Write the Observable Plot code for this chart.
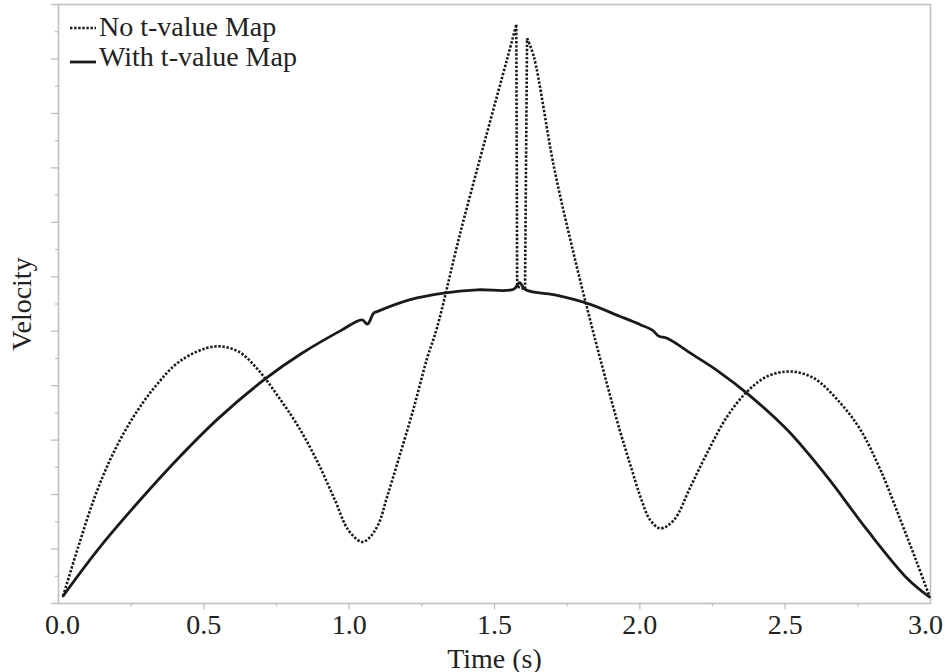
<!DOCTYPE html>
<html>
<head>
<meta charset="utf-8">
<script src="https://cdn.jsdelivr.net/npm/d3@7"></script>
<script src="https://cdn.jsdelivr.net/npm/@observablehq/plot@0.6"></script>
<style>
  body { margin: 0; background: #fff; }
  svg, svg text { font-family: "Liberation Serif", "Times New Roman", serif; }
</style>
</head>
<body>
<div id="chart"></div>
<script>
// Velocity profile without the t-value map (dotted)
const timeNoMap = [0.016, 0.068, 0.125, 0.183, 0.251, 0.332, 0.423, 0.538, 0.618, 0.687,
  0.756, 0.825, 0.894, 0.951, 0.997, 1.043, 1.066, 1.10, 1.13, 1.17,
  1.22, 1.268, 1.302, 1.382, 1.474, 1.543, 1.575, 1.578, 1.605, 1.612,
  1.635, 1.704, 1.772, 1.836, 1.88, 1.93, 1.97, 2.002, 2.036, 2.071,
  2.117, 2.174, 2.231, 2.300, 2.369, 2.438, 2.518, 2.598, 2.690, 2.759,
  2.828, 2.897, 2.954, 2.996];
const velNoMap = [0.14, 1.04, 1.96, 2.70, 3.37, 3.98, 4.47, 4.72, 4.63, 4.29,
  3.80, 3.25, 2.57, 1.90, 1.35, 1.13, 1.19, 1.45, 1.95, 2.65,
  3.55, 4.50, 5.06, 6.80, 8.64, 9.99, 10.63, 5.82, 5.77, 10.38,
  10.05, 8.03, 6.43, 5.06, 4.17, 3.20, 2.50, 1.96, 1.53, 1.38,
  1.53, 2.14, 2.76, 3.43, 3.89, 4.17, 4.26, 4.14, 3.68, 3.19,
  2.45, 1.53, 0.74, 0.14];

// Velocity profile with the t-value map (solid)
const timeWithMap = [0.016, 0.137, 0.274, 0.40, 0.55, 0.71, 0.836, 0.974, 1.044, 1.063,
  1.084, 1.096, 1.210, 1.325, 1.440, 1.566, 1.586, 1.607, 1.704, 1.819,
  1.933, 2.002, 2.043, 2.065, 2.094, 2.185, 2.271, 2.369, 2.507, 2.644,
  2.782, 2.920, 2.996];
const velWithMap = [0.14, 1.00, 1.86, 2.60, 3.40, 4.12, 4.59, 5.02, 5.21, 5.13,
  5.33, 5.36, 5.58, 5.70, 5.76, 5.77, 5.89, 5.76, 5.67, 5.51,
  5.27, 5.12, 5.02, 4.91, 4.87, 4.56, 4.26, 3.86, 3.19, 2.33,
  1.35, 0.46, 0.12];

const seriesNames = ["No t-value Map", "With t-value Map"];
const xTicks = [0, 0.5, 1, 1.5, 2, 2.5, 3];
const xMinorTicks = [0.25, 0.75, 1.25, 1.75, 2.25, 2.75];
const yTicks = d3.range(0, 12, 1);
const yMinorTicks = d3.range(0.5, 11, 1);

// The dotted profile jumps at the spike; that stretch is drawn with straight
// segments, the smooth humps on either side with a spline.
const spikeStart = 1.575, spikeEnd = 1.612;
const noMap = timeNoMap.map((t, i) => ({
  t, v: velNoMap[i],
  part: t <= spikeStart ? "rise" : t >= spikeEnd ? "fall" : "spike"
}));
const noMapSmooth = noMap.filter(d => d.part !== "spike");
const noMapSpike = noMap.filter(d => d.t >= spikeStart && d.t <= spikeEnd);
const withMap = timeWithMap.map((t, i) => ({t, v: velWithMap[i]}));

const axisColor = "#bfbfbf";
const ink = "#1a1a1a";
const textColor = "#222";
const fontFamily = "Liberation Serif, Times New Roman, serif";
const fontSize = 28;
const dots = "2.4,1.7";
const dotWidth = 2.6;
const solidWidth = 2.8;
const fmt = d3.format(".1f");

// Labels at both ends of the time axis sit a little inside the frame
const innerTicks = xTicks.slice(1, -1);
const firstTick = xTicks.slice(0, 1);
const lastTick = xTicks.slice(-1);

const svg = Plot.plot({
  width: 945,
  height: 672,
  marginLeft: 58,
  marginRight: 15,
  marginTop: 4,
  marginBottom: 69,
  style: {fontFamily, fontSize: fontSize + "px", color: textColor, background: "#fff"},
  x: {domain: [0, 3]},
  y: {domain: [0, 11]},
  marks: [
    Plot.frame({stroke: axisColor, strokeWidth: 1.6}),
    Plot.axisX({ticks: xMinorTicks, tickSize: 3.5, tickFormat: () => "", stroke: axisColor, strokeWidth: 1.3, label: null}),
    Plot.axisX({ticks: innerTicks, tickSize: 6.5, tickPadding: 4, tickFormat: fmt,
      stroke: axisColor, strokeWidth: 1.3, fill: textColor, fontSize, fontFamily,
      label: "Time (s)", labelAnchor: "center", labelArrow: "none", labelOffset: 64}),
    Plot.axisX({ticks: firstTick, tickSize: 0, tickPadding: 10.5, tickFormat: fmt, dx: 4,
      fill: textColor, fontSize, fontFamily, label: null}),
    Plot.axisX({ticks: lastTick, tickSize: 0, tickPadding: 10.5, tickFormat: fmt, dx: -5,
      fill: textColor, fontSize, fontFamily, label: null}),
    Plot.axisY({ticks: yMinorTicks, tickSize: 3, tickFormat: () => "", stroke: axisColor, strokeWidth: 1.3, label: null}),
    Plot.axisY({ticks: yTicks, tickSize: 7, tickFormat: () => "", stroke: axisColor, strokeWidth: 1.3,
      fill: textColor, fontSize, fontFamily,
      label: "Velocity", labelAnchor: "center", labelArrow: "none", labelOffset: 47}),
    Plot.line(noMapSmooth, {x: "t", y: "v", z: "part", stroke: ink, strokeWidth: dotWidth, strokeDasharray: dots,
      strokeLinecap: "butt", curve: "catmull-rom"}),
    Plot.line(noMapSpike, {x: "t", y: "v", stroke: ink, strokeWidth: dotWidth, strokeDasharray: dots,
      strokeLinecap: "butt", strokeLinejoin: "miter", curve: "linear"}),
    Plot.line(withMap, {x: "t", y: "v", stroke: ink, strokeWidth: solidWidth, curve: "catmull-rom"})
  ]
});

// Legend in the upper-left corner of the frame
const legend = d3.select(svg).append("g")
  .attr("font-size", fontSize)
  .attr("font-family", fontFamily)
  .attr("fill", textColor)
  .attr("text-anchor", "start");
const legendRows = [
  {name: seriesNames[0], lineY: 28, textY: 36, dash: dots, width: dotWidth},
  {name: seriesNames[1], lineY: 62, textY: 66, dash: null, width: solidWidth}
];
for (const row of legendRows) {
  legend.append("line")
    .attr("x1", 70).attr("x2", 96).attr("y1", row.lineY).attr("y2", row.lineY)
    .attr("stroke", ink).attr("stroke-width", row.width)
    .attr("stroke-linecap", "butt")
    .attr("stroke-dasharray", row.dash);
  legend.append("text")
    .attr("x", 99).attr("y", row.textY)
    .text(row.name);
}

document.getElementById("chart").append(svg);
</script>
</body>
</html>
